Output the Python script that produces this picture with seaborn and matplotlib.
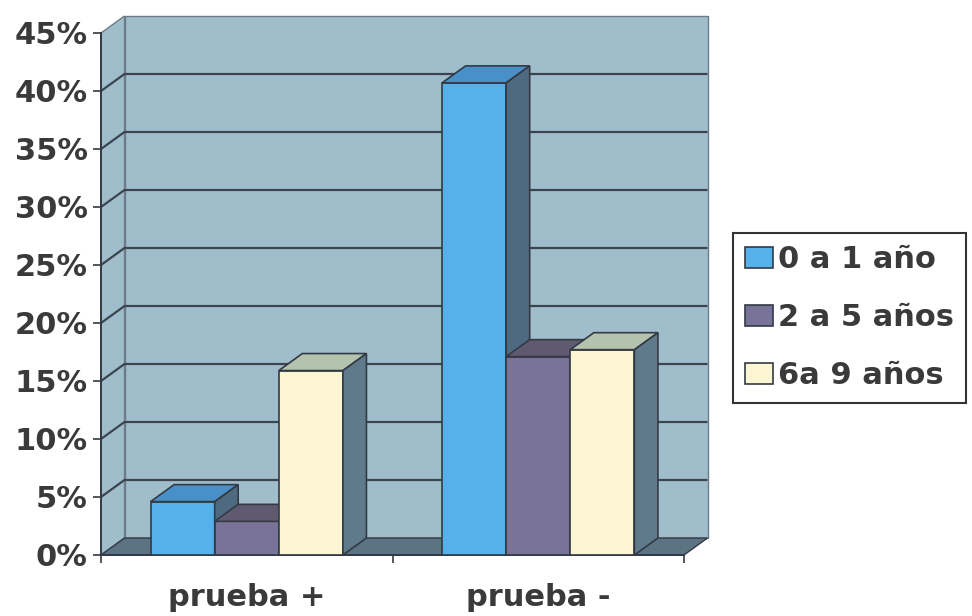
import numpy as np
import pandas as pd
import matplotlib
matplotlib.use("Agg")
import matplotlib.pyplot as plt
import seaborn as sns
from matplotlib.patches import Polygon, Patch
from matplotlib.ticker import FixedLocator, FuncFormatter

# Data
categories = ["prueba +", "prueba -"]
groups = ["0 a 1 año", "2 a 5 años", "6a 9 años"]
pct_0_1 = [4.6, 40.7]
pct_2_5 = [2.9, 17.1]
pct_6_9 = [15.9, 17.7]
y_ticks = [0, 5, 10, 15, 20, 25, 30, 35, 40, 45]

# Colours: front face, top face, side face for each age group
front_cols = ["#56b0ea", "#7a7399", "#fcf5d3"]
top_cols = ["#4a90c8", "#5f5a70", "#b3c3ae"]
side_cols = ["#4e6a80", "#4f4d62", "#5f7a8a"]
edge_col = "#333a44"
wall_col = "#a0bdcc"
floor_col = "#5b7383"
grid_col = "#3c4450"
text_col = "#3a3a3a"

df = pd.DataFrame({
    "prueba": categories * 3,
    "edad": [g for g in groups for _ in categories],
    "pct": pct_0_1 + pct_2_5 + pct_6_9,
})

sns.set_style("white")
plt.rcParams["font.family"] = ["DejaVu Sans"]
plt.rcParams["font.weight"] = "bold"

W, H = 9.72, 6.16
fig = plt.figure(figsize=(W, H), dpi=100)
ax = fig.add_axes([101 / 972, 1 - 555 / 616, 583 / 972, 522 / 616])
ax.set_facecolor("none")

sns.barplot(data=df, x="prueba", y="pct", hue="edad", order=categories,
            hue_order=groups, palette=front_cols, width=0.66, saturation=1,
            errorbar=None, edgecolor=edge_col, linewidth=1.2, legend=False, ax=ax)

ax.set_xlim(-0.5, 1.5)
ax.set_ylim(0, 45)
ax.set_xlabel("")
ax.set_ylabel("")

# Depth offset of the 3-D box, converted from inches to data units
pos = ax.get_position()
dx = 0.235 * (2.0 / (pos.width * W))
dy = 0.17 * (45.0 / (pos.height * H))
x0, x1 = -0.5, 1.5

# Back wall, side wall and floor
ax.add_patch(Polygon([(x0 + dx, dy), (x1 + dx, dy), (x1 + dx, 45 + dy), (x0 + dx, 45 + dy)],
                     closed=True, facecolor=wall_col, edgecolor="#6c7c88", lw=1.0,
                     clip_on=False, zorder=0.5))
ax.add_patch(Polygon([(x0, 0), (x0 + dx, dy), (x0 + dx, 45 + dy), (x0, 45)],
                     closed=True, facecolor=wall_col, edgecolor="#6c7c88", lw=1.0,
                     clip_on=False, zorder=0.6))
for v in y_ticks[1:-1]:
    ax.plot([x0, x0 + dx, x1 + dx], [v, v + dy, v + dy], color=grid_col, lw=1.6,
            clip_on=False, zorder=1, solid_capstyle="butt")
ax.add_patch(Polygon([(x0, 0), (x1, 0), (x1 + dx, dy), (x0 + dx, dy)],
                     closed=True, facecolor=floor_col, edgecolor=edge_col, lw=1.0,
                     clip_on=False, zorder=1.5))

# Give each bar its top and side faces, drawn left to right
face_map = {tuple(np.round(matplotlib.colors.to_rgba(c), 3)): (t, s)
            for c, t, s in zip(front_cols, top_cols, side_cols)}
bars = sorted([p for p in ax.patches if hasattr(p, "get_height") and p.get_height() > 0
               and p.get_width() < 1], key=lambda p: p.get_x())
for i, p in enumerate(bars):
    x, w, h = p.get_x(), p.get_width(), p.get_height()
    key = tuple(np.round(p.get_facecolor(), 3))
    tcol, scol = face_map[key]
    z = 3 + i * 3
    p.set_zorder(z)
    ax.add_patch(Polygon([(x, h), (x + w, h), (x + w + dx, h + dy), (x + dx, h + dy)],
                         closed=True, facecolor=tcol, edgecolor=edge_col, lw=1.2,
                         clip_on=False, zorder=z + 1))
    ax.add_patch(Polygon([(x + w, 0), (x + w + dx, dy), (x + w + dx, h + dy), (x + w, h)],
                         closed=True, facecolor=scol, edgecolor=edge_col, lw=1.2,
                         clip_on=False, zorder=z + 2))

# Axes styling
for s in ["top", "right"]:
    ax.spines[s].set_visible(False)
for s in ["left", "bottom"]:
    ax.spines[s].set_color(edge_col)
    ax.spines[s].set_linewidth(1.4)
    ax.spines[s].set_zorder(2)

ax.yaxis.set_major_locator(FixedLocator(y_ticks))
ax.yaxis.set_major_formatter(FuncFormatter(lambda v, _: f"{v:.0f}%"))
ax.tick_params(axis="y", which="major", direction="out", length=5.5, width=1.2,
               color=edge_col, pad=4, labelsize=22, labelcolor=text_col, left=True)

ax.xaxis.set_major_locator(FixedLocator([-0.5, 0.5, 1.5]))
ax.xaxis.set_major_formatter(FuncFormatter(lambda v, _: ""))
ax.xaxis.set_minor_locator(FixedLocator([0, 1]))
ax.xaxis.set_minor_formatter(FuncFormatter(lambda v, _: categories[int(round(v))]))
ax.tick_params(axis="x", which="major", direction="out", length=5.5, width=1.2,
               color=edge_col, bottom=True)
ax.tick_params(axis="x", which="minor", length=0, pad=20, labelsize=22,
               labelcolor=text_col, bottom=True)
for lbl in ax.get_yticklabels() + ax.get_xticklabels(minor=True):
    lbl.set_fontweight("bold")

# Legend
handles = [Patch(facecolor=c, edgecolor=edge_col, linewidth=1.2) for c in front_cols]
leg = fig.legend(handles, groups, loc="upper left", bbox_to_anchor=(733 / 972, 1 - 233 / 616),
                 bbox_transform=fig.transFigure, borderaxespad=0,
                 prop={"weight": "bold", "size": 22}, handlelength=0.92, handleheight=0.65,
                 handletextpad=0.15, labelspacing=0.95, borderpad=0.4,
                 frameon=True, fancybox=False, framealpha=1, edgecolor="#333333")
leg.get_frame().set_linewidth(1.5)
for t in leg.get_texts():
    t.set_color(text_col)

fig.savefig("out.png", dpi=100, facecolor="white")
